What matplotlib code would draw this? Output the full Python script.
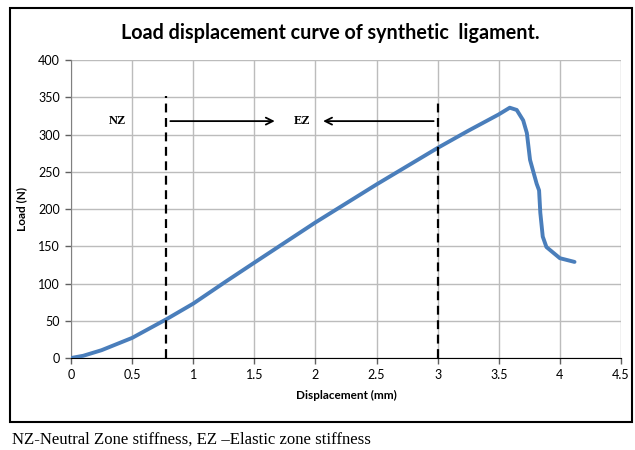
import matplotlib.pyplot as plt
import matplotlib.patches as patches

plt.rcParams['font.family'] = ['Lato', 'DejaVu Sans']

# load-displacement readings (mm, N)
disp = [0, 0.1, 0.25, 0.5, 0.78, 1.0, 1.27, 1.5, 2.0, 2.5, 3.0, 3.25, 3.5,
        3.59, 3.647, 3.70, 3.73, 3.756, 3.81, 3.83, 3.84, 3.86, 3.89, 4.0, 4.12]
load = [0, 3, 10.5, 27, 52, 73, 103, 128, 182, 233, 282, 305, 327,
        336, 333, 319, 302, 266, 234, 225, 195, 163, 149, 134, 129]

nz_x = 0.78
ez_x = 3.0
xticks = [0, 0.5, 1, 1.5, 2, 2.5, 3, 3.5, 4, 4.5]
xtick_labels = ['0', '0.5', '1', '1.5', '2', '2.5', '3', '3.5', '4', '4.5']
yticks = [0, 50, 100, 150, 200, 250, 300, 350, 400]

fig = plt.figure(figsize=(6.35, 4.5), dpi=100)
ax = fig.add_axes([0.1118, 0.2044, 0.8661, 0.6622])

ax.plot(disp, load, color='#4a7ebb', linewidth=2.8, solid_capstyle='round',
        solid_joinstyle='round', zorder=3)

ax.vlines([nz_x], 0, 352, colors='k', linestyles=(0, (4, 2.5)), linewidth=1.6, zorder=4)
ax.vlines([ez_x], 0, 348, colors='k', linestyles=(0, (4, 2.5)), linewidth=1.6, zorder=4)

kw = dict(arrowstyle='->,head_length=0.5,head_width=0.25', color='k', lw=1.3)
ax.annotate('', xy=(1.69, 318), xytext=(nz_x + 0.01, 318), arrowprops=kw)
ax.annotate('', xy=(2.04, 318), xytext=(ez_x - 0.01, 318), arrowprops=kw)
ax.text(0.38, 318, 'NZ', ha='center', va='center', fontsize=9, fontweight='bold',
        family='Liberation Serif')
ax.text(1.89, 318, 'EZ', ha='center', va='center', fontsize=9, fontweight='bold',
        family='Liberation Serif')

ax.set_xlim(0, 4.5)
ax.set_ylim(0, 400)
ax.set_xticks(xticks, xtick_labels)
ax.set_yticks(yticks)
ax.grid(True, color='#bcbcbc', linewidth=1)
ax.set_axisbelow(True)
for s in ['top', 'right']:
    ax.spines[s].set_visible(False)
ax.spines['left'].set_color('#808080')
ax.spines['bottom'].set_color('k')
ax.tick_params(labelsize=9, length=4, width=1, color='#606060', pad=4)

ax.set_xlabel('Displacement (mm)', fontsize=8.5, fontweight='bold', labelpad=6)
ax.set_ylabel('Load (N)', fontsize=8.5, fontweight='bold', labelpad=8)

fig.text(0.52, 0.926, 'Load displacement curve of synthetic  ligament.',
         ha='center', va='center', fontsize=14.2, fontweight='bold')

# outer frame around the chart
fig.patches.append(patches.Rectangle((10 / 635, 1 - 422 / 450), 622 / 635, 414 / 450,
                                     transform=fig.transFigure, fill=False,
                                     edgecolor='k', linewidth=1.5))

fig.text(12 / 635, 1 - 440 / 450, 'NZ-Neutral Zone stiffness, EZ \u2013Elastic zone stiffness',
         ha='left', va='center', fontsize=12.1, family='Liberation Serif')

fig.savefig('out.png', dpi=100)
